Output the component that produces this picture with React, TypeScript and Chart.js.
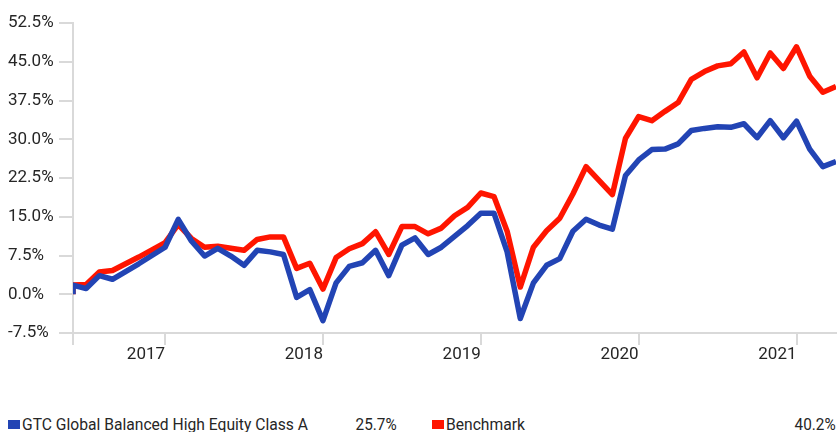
import React, { useEffect, useRef } from 'react';
import { Chart, registerables } from 'chart.js';

Chart.register(...registerables);

// Month-end dates (first entry = inception point at 0%)
const dates = [
  '2016-06', '2016-06', '2016-07', '2016-08', '2016-09', '2016-10', '2016-11', '2016-12',
  '2017-01', '2017-02', '2017-03', '2017-04', '2017-05', '2017-06', '2017-07', '2017-08', '2017-09', '2017-10', '2017-11', '2017-12',
  '2018-01', '2018-02', '2018-03', '2018-04', '2018-05', '2018-06', '2018-07', '2018-08', '2018-09', '2018-10', '2018-11', '2018-12',
  '2019-01', '2019-02', '2019-03', '2019-04', '2019-05', '2019-06', '2019-07', '2019-08', '2019-09', '2019-10', '2019-11', '2019-12',
  '2020-01', '2020-02', '2020-03', '2020-04', '2020-05', '2020-06', '2020-07', '2020-08', '2020-09', '2020-10', '2020-11', '2020-12',
  '2021-01', '2021-02', '2021-03', '2021-04',
];

const fundName = 'GTC Global Balanced High Equity Class A';
const benchName = 'Benchmark';

const fundValues = [
  0, 1.75, 1.1, 3.6, 2.9, 4.4, 5.9, 7.5,
  9.1, 14.5, 10.3, 7.4, 8.9, 7.4, 5.6, 8.5, 8.2, 7.7, -0.6, 0.9,
  -5.1, 2.2, 5.4, 6.1, 8.5, 3.6, 9.5, 10.9, 7.7, 9.1, 11.2, 13.3,
  15.7, 15.7, 8.2, -4.7, 2.2, 5.6, 6.9, 12.2, 14.5, 13.4, 12.6, 23.0,
  26.0, 28.0, 28.1, 29.1, 31.7, 32.1, 32.4, 32.3, 33.0, 30.3, 33.6, 30.3,
  33.5, 28.1, 24.7, 25.7,
];

const benchValues = [
  0, 1.8, 1.9, 4.3, 4.6, 5.9, 7.2, 8.6,
  10.0, 13.5, 10.8, 9.1, 9.3, 8.9, 8.5, 10.6, 11.1, 11.1, 5.0, 6.0,
  1.0, 7.1, 8.8, 9.8, 12.1, 7.7, 13.1, 13.1, 11.7, 12.8, 15.2, 16.8,
  19.6, 18.9, 12.2, 1.4, 9.1, 12.3, 14.7, 19.4, 24.7, 22.0, 19.3, 30.2,
  34.4, 33.6, 35.4, 37.1, 41.6, 43.1, 44.2, 44.6, 46.9, 41.9, 46.7, 43.7,
  47.9, 42.2, 39.1, 40.2,
];

const yearLabels = ['2017', '2018', '2019', '2020', '2021'];
const yMin = -7.5;
const yMax = 52.5;
const yStep = 7.5;

const BLUE = '#2244B4';
const RED = '#FF1500';
const AXIS = '#D9D9D9';
const TEXT = '#262626';
const FONT = 'Roboto, "Noto Sans", sans-serif';

const startDate = dates[0];
function monthIndex(d: string): number {
  const [y, m] = d.split('-').map(Number);
  const [y0, m0] = startDate.split('-').map(Number);
  return (y - y0) * 12 + (m - m0);
}
const lastX = monthIndex(dates[dates.length - 1]);
const yearTickValues = yearLabels.map((y) => monthIndex(y + '-01'));

export default function App() {
  const ref = useRef<HTMLCanvasElement | null>(null);

  useEffect(() => {
    if (!ref.current) return;
    const chart = new Chart(ref.current, {
      type: 'line',
      data: {
        datasets: [
          {
            label: fundName,
            data: dates.map((d, i) => ({ x: monthIndex(d), y: fundValues[i] })),
            borderColor: BLUE,
            backgroundColor: BLUE,
            borderWidth: 5.5,
            pointRadius: 0,
            tension: 0,
            borderJoinStyle: 'round',
          },
          {
            label: benchName,
            data: dates.map((d, i) => ({ x: monthIndex(d), y: benchValues[i] })),
            borderColor: RED,
            backgroundColor: RED,
            borderWidth: 5.5,
            pointRadius: 0,
            tension: 0,
            borderJoinStyle: 'round',
          },
        ],
      },
      options: {
        animation: false,
        responsive: false,
        layout: { padding: { left: 8, top: 23, right: 1, bottom: 0 } },
        plugins: { legend: { display: false }, tooltip: { enabled: false } },
        scales: {
          x: {
            type: 'linear',
            min: 0,
            max: lastX,
            afterBuildTicks: (s: any) => {
              s.ticks = [0, ...yearTickValues].map((v) => ({ value: v }));
            },
            afterFit: (s: any) => {
              s.height = 42;
            },
            ticks: {
              autoSkip: false,
              maxRotation: 0,
              align: 'end',
              padding: 0,
              color: TEXT,
              font: { family: FONT, size: 17 },
              callback: (v: any) => {
                const i = yearTickValues.indexOf(Number(v));
                return i >= 0 ? yearLabels[i] : '';
              },
            },
            grid: { drawOnChartArea: false, drawTicks: true, tickLength: 12, color: AXIS, lineWidth: 2 },
            border: { color: AXIS, width: 2 },
          },
          y: {
            min: yMin,
            max: yMax,
            afterFit: (s: any) => {
              s.width = 65;
            },
            ticks: {
              stepSize: yStep,
              crossAlign: 'far',
              color: TEXT,
              font: { family: FONT, size: 17 },
              callback: (v: any) => Number(v).toFixed(1) + '%',
            },
            grid: { drawOnChartArea: false, drawTicks: true, tickLength: 14, color: AXIS, lineWidth: 2 },
            border: { color: AXIS, width: 2 },
          },
        },
      },
    } as any);
    return () => chart.destroy();
  }, []);

  const fundLast = fundValues[fundValues.length - 1].toFixed(1) + '%';
  const benchLast = benchValues[benchValues.length - 1].toFixed(1) + '%';

  const itemStyle: React.CSSProperties = {
    position: 'absolute',
    top: 0,
    display: 'flex',
    alignItems: 'center',
    whiteSpace: 'nowrap',
  };
  const sq = (c: string): React.CSSProperties => ({
    display: 'inline-block',
    width: 12,
    height: 9,
    background: c,
    marginRight: 2,
  });
  const nameStyle: React.CSSProperties = {
    display: 'inline-block',
    transform: 'scaleX(0.92)',
    transformOrigin: 'left center',
  };
  const pct: React.CSSProperties = {
    position: 'absolute',
    top: 0,
    whiteSpace: 'nowrap',
    transform: 'scaleX(0.9)',
    transformOrigin: 'right center',
  };

  return (
    <div style={{ position: 'fixed', left: 0, top: 0, width: 837, height: 432, background: '#fff', overflow: 'hidden' }}>
      <canvas ref={ref} width={837} height={375} style={{ position: 'absolute', left: 0, top: 0, width: 837, height: 375 }} />
      <div style={{ position: 'absolute', left: 0, top: 413, width: 837, height: 22, fontFamily: FONT, fontSize: 17, color: TEXT, lineHeight: '22px' }}>
        <div style={{ ...itemStyle, left: 8 }}>
          <span style={sq(BLUE)} />
          <span style={nameStyle}>{fundName}</span>
        </div>
        <div style={{ ...pct, right: 837 - 397 }}>{fundLast}</div>
        <div style={{ ...itemStyle, left: 432 }}>
          <span style={sq(RED)} />
          <span style={nameStyle}>{benchName}</span>
        </div>
        <div style={{ ...pct, right: 1 }}>{benchLast}</div>
      </div>
    </div>
  );
}
